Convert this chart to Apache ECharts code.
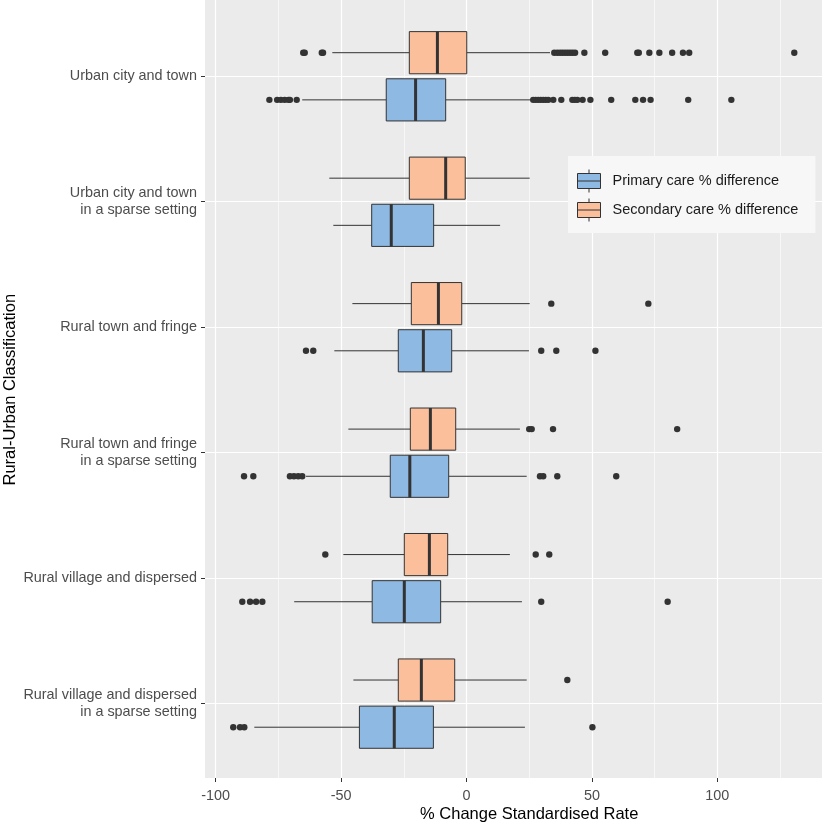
<!DOCTYPE html>
<html>
<head>
<meta charset="utf-8">
<script src="https://cdn.jsdelivr.net/npm/echarts@6/dist/echarts.min.js"></script>
<style>
html, body { margin: 0; padding: 0; background: #fff; }
#chart { width: 824px; height: 824px; }
</style>
</head>
<body>
<div id="chart"></div>
<script>
var categories = [
  'Urban city and town',
  'Urban city and town\nin a sparse setting',
  'Rural town and fringe',
  'Rural town and fringe\nin a sparse setting',
  'Rural village and dispersed',
  'Rural village and dispersed\nin a sparse setting'
];

// [lower whisker, Q1, median, Q3, upper whisker]
var primaryStats = [
  [-65.5, -32.0, -20.3, -8.3, 25.9],
  [-53.1, -37.8, -30.0, -13.1, 13.4],
  [-52.7, -27.2, -17.2, -5.9, 24.9],
  [-64.0, -30.4, -22.6, -7.1, 24.0],
  [-68.7, -37.6, -24.8, -10.3, 22.1],
  [-84.6, -42.7, -28.8, -13.2, 23.3]
];
var secondaryStats = [
  [-53.5, -22.8, -11.6, 0.1, 33.3],
  [-54.7, -22.8, -8.3, -0.5, 25.2],
  [-45.5, -22.0, -11.2, -1.9, 25.2],
  [-47.1, -22.4, -14.4, -4.3, 21.3],
  [-49.1, -24.8, -14.8, -7.5, 17.3],
  [-45.1, -27.2, -18.0, -4.7, 24.0]
];

var primaryOutliers = [
  [-78.6, -75.5, -74.0, -72.5, -71.0, -70.4, -67.7, 26.6, 27.6, 28.6, 29.6, 30.6, 31.6, 32.6,
   34.6, 37.8, 42.2, 43.2, 44.2, 46.3, 49.4, 57.7, 67.3, 70.4, 73.4, 88.4, 105.6],
  [],
  [-64.0, -61.1, 29.8, 35.8, 51.4],
  [-88.7, -85.0, -70.4, -68.8, -67.1, -65.5, 29.3, 30.6, 36.2, 59.7],
  [-89.4, -86.3, -83.9, -81.4, 29.8, 80.2],
  [-93.0, -90.3, -88.6, 50.2]
];
var secondaryOutliers = [
  [-65.1, -64.5, -57.7, -57.2, 35.0, 36.2, 37.3, 38.3, 39.3, 40.3, 41.3, 42.3, 43.3, 47.0,
   55.3, 68.1, 68.7, 72.9, 76.9, 82.0, 86.3, 88.8, 130.7],
  [],
  [33.8, 72.5],
  [25.0, 26.0, 34.5, 84.0],
  [-56.3, 27.6, 33.0],
  [40.2]
];

var xTicks = [-100, -50, 0, 50, 100];

var font = 'Liberation Sans, Arial, sans-serif';
var primaryColor = '#8DB9E3';
var secondaryColor = '#FCBF9B';

var chart = echarts.init(document.getElementById('chart'));

function boxRows(stats) {
  return stats.map(function (s, i) { return [i].concat(s); });
}
function dotRows(lists) {
  var out = [];
  lists.forEach(function (vals, i) {
    vals.forEach(function (v) { out.push([i, v]); });
  });
  return out;
}

function boxRenderer(shift, fill) {
  return function (params, api) {
    var c = api.value(0);
    var band = api.size([0, 1])[1];
    var lo = api.coord([api.value(1), c]);
    var q1 = api.coord([api.value(2), c]);
    var med = api.coord([api.value(3), c]);
    var q3 = api.coord([api.value(4), c]);
    var hi = api.coord([api.value(5), c]);
    var y = lo[1] + shift * band;
    var h = band * 0.168;
    var ln = { stroke: '#333333', lineWidth: 1 };
    return {
      type: 'group',
      children: [
        { type: 'line', shape: { x1: lo[0], y1: y, x2: q1[0], y2: y }, style: ln },
        { type: 'line', shape: { x1: q3[0], y1: y, x2: hi[0], y2: y }, style: ln },
        { type: 'rect', shape: { x: q1[0], y: y - h, width: q3[0] - q1[0], height: 2 * h },
          style: { fill: fill, stroke: '#333333', lineWidth: 1 } },
        { type: 'line', shape: { x1: med[0], y1: y - h, x2: med[0], y2: y + h },
          style: { stroke: '#333333', lineWidth: 3 } }
      ]
    };
  };
}

function dotRenderer(shift) {
  return function (params, api) {
    var c = api.value(0);
    var band = api.size([0, 1])[1];
    var p = api.coord([api.value(1), c]);
    return {
      type: 'circle',
      shape: { cx: p[0], cy: p[1] + shift * band, r: 3.2 },
      style: { fill: '#333333' }
    };
  };
}

var legendIcon = 'path://M11.5,0L11.5,4M0,4L23,4L23,19L0,19ZM0,11.5L23,11.5M11.5,19L11.5,23';

var option = {
  animation: false,
  graphic: {
    elements: [{
      type: 'rect', left: 205, top: 0, z: -10,
      shape: { width: 617, height: 778 },
      style: { fill: '#EBEBEB' }
    }]
  },
  grid: [
    { left: 215.7, width: 627, top: 0, height: 778, outerBoundsMode: 'none', containLabel: false },
    { left: 215.7, width: 627, top: 13.3, height: 752.8, outerBoundsMode: 'none', containLabel: false },
    { left: 205, width: 617, top: 13.3, height: 752.8, outerBoundsMode: 'none', containLabel: false }
  ],
  legend: {
    orient: 'vertical',
    left: 568,
    top: 156,
    data: ['Primary care % difference', 'Secondary care % difference'],
    icon: legendIcon,
    itemWidth: 23,
    itemHeight: 23,
    itemGap: 5,
    padding: [13, 17, 11, 9],
    backgroundColor: '#F7F7F7',
    itemStyle: { borderColor: '#333333', borderWidth: 1 },
    textStyle: { color: '#1A1A1A', fontSize: 14.5, fontFamily: font, padding: [0, 0, 0, 7] }
  },
  xAxis: [
    {
      gridIndex: 0, type: 'value', min: -100, max: 150, interval: 50,
      axisLine: { show: false },
      axisTick: { show: true, length: 4, lineStyle: { color: '#333333' } },
      axisLabel: {
        color: '#4D4D4D', fontSize: 14.4, fontFamily: font, margin: 11,
        formatter: function (v) { return xTicks.indexOf(v) >= 0 ? String(v) : ''; }
      },
      splitLine: { show: true, lineStyle: { color: '#FFFFFF', width: 1.2 } },
      minorTick: { show: false, splitNumber: 2 },
      minorSplitLine: { show: true, lineStyle: { color: '#FFFFFF', width: 0.6 } },
      name: '% Change Standardised Rate',
      nameLocation: 'middle',
      nameGap: 28,
      nameMoveOverlap: false,
      nameTextStyle: { color: '#000000', fontSize: 16.5, fontFamily: font }
    },
    { gridIndex: 1, type: 'value', min: -100, max: 150, show: false },
    { gridIndex: 2, type: 'value', min: -100, max: 150, show: false }
  ],
  yAxis: [
    { gridIndex: 0, type: 'value', min: 0, max: 1, show: false },
    { gridIndex: 1, type: 'category', data: categories, inverse: true, show: false },
    {
      gridIndex: 2, type: 'category', data: categories, inverse: true,
      axisLine: { show: false, onZero: false },
      axisTick: { show: true, alignWithLabel: true, length: 4, lineStyle: { color: '#333333' } },
      axisLabel: {
        color: '#4D4D4D', fontSize: 14.4, fontFamily: font, margin: 8,
        lineHeight: 17, align: 'right'
      },
      splitLine: { show: true, alignWithLabel: true, lineStyle: { color: '#FFFFFF', width: 1.2 } },
      name: 'Rural-Urban Classification',
      nameLocation: 'middle',
      nameRotate: 90,
      nameGap: 186,
      nameMoveOverlap: false,
      nameTextStyle: { color: '#000000', fontSize: 16.5, fontFamily: font }
    }
  ],
  series: [
    {
      name: 'Secondary care % difference', type: 'custom',
      xAxisIndex: 1, yAxisIndex: 1,
      itemStyle: { color: secondaryColor, borderColor: '#333333', borderWidth: 1 },
      renderItem: boxRenderer(-0.186, secondaryColor),
      encode: { x: [1, 2, 3, 4, 5], y: 0 },
      data: boxRows(secondaryStats)
    },
    {
      name: 'Primary care % difference', type: 'custom',
      xAxisIndex: 1, yAxisIndex: 1,
      itemStyle: { color: primaryColor, borderColor: '#333333', borderWidth: 1 },
      renderItem: boxRenderer(0.19, primaryColor),
      encode: { x: [1, 2, 3, 4, 5], y: 0 },
      data: boxRows(primaryStats)
    },
    {
      name: 'secondary outliers', type: 'custom',
      xAxisIndex: 1, yAxisIndex: 1,
      renderItem: dotRenderer(-0.186),
      encode: { x: 1, y: 0 },
      data: dotRows(secondaryOutliers)
    },
    {
      name: 'primary outliers', type: 'custom',
      xAxisIndex: 1, yAxisIndex: 1,
      renderItem: dotRenderer(0.19),
      encode: { x: 1, y: 0 },
      data: dotRows(primaryOutliers)
    }
  ]
};

chart.setOption(option);
</script>
</body>
</html>
